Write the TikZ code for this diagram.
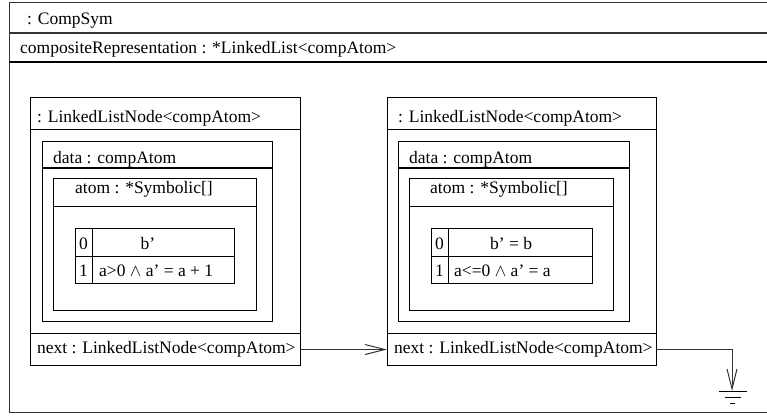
\documentclass[tikz,border=0pt]{standalone}
\usepackage{fontspec}
\setmainfont{Liberation Serif}
\usetikzlibrary{arrows.meta}
\tikzset{
  box/.style={draw=black, line width=1pt, rectangle, inner sep=0pt, anchor=north west},
  lbl/.style={inner sep=0pt, anchor=base west, font=\fontsize{17.5}{20}\selectfont},
  clbl/.style={inner sep=0pt, anchor=base, font=\fontsize{17.5}{20}\selectfont},
  sep/.style={draw=black, line width=1pt},
  conn/.style={draw=black!80, line width=1pt, -{Straight Barb[length=20pt,width=10pt,line width=1pt]}},
}
\begin{document}
\begin{tikzpicture}[x=1pt,y=-1pt]
\useasboundingbox (0,0) rectangle (767,418);
% outer object
\draw[black!80, line width=1pt] (767,2) -- (9,2) -- (9,412) -- (767,412);
\draw[black!80, line width=1.5pt] (9,33) -- (767,33);
\draw[black, line width=2pt] (9,62) -- (767,62);
\node[lbl] (cs) at (27,24) {: CompSym};
\node[lbl] (cr) at (20,53) {compositeRepresentation : *LinkedList<compAtom>};

% left linked list node
\node[box, minimum width=270pt, minimum height=268pt] (lnode) at (30,97) {};
\draw[sep] (30,129) -- (300,129);
\node[lbl] (lt) at (37,122) {: LinkedListNode<compAtom>};
\node[box, minimum width=230pt, minimum height=180pt] (ldata) at (42,141) {};
\draw[sep, line width=1.3pt] (42,168) -- (272,168);
\node[lbl] (ldt) at (53,163) {data : compAtom};
\node[box, minimum width=203pt, minimum height=132pt] (latom) at (53,178) {};
\draw[sep] (53,206) -- (256,206);
\node[lbl] (lat) at (75,193) {atom : *Symbolic[]};
\node[box, minimum width=159pt, minimum height=55pt] (ltab) at (75,228) {};
\draw[sep] (75,256) -- (234,256);
\draw[sep] (92,228) -- (92,283);
\node[clbl] (l0) at (83.5,249) {0};
\node[clbl] (l1) at (83.5,276) {1};
\node[clbl] (lb) at (148,249) {b’};
\node[lbl] (lf) at (99,276) {a>0 $\wedge$ a’ = a + 1};
\node[box, minimum width=270pt, minimum height=32pt] (lnext) at (30,333) {};
\node[lbl] (lnt) at (37,353) {next : LinkedListNode<compAtom>};

% right linked list node
\node[box, minimum width=269pt, minimum height=268pt] (rnode) at (387,97) {};
\draw[sep] (387,129) -- (656,129);
\node[lbl] (rt) at (398,122) {: LinkedListNode<compAtom>};
\node[box, minimum width=231pt, minimum height=180pt] (rdata) at (398,141) {};
\draw[sep, line width=1.3pt] (398,168) -- (629,168);
\node[lbl] (rdt) at (409,163) {data : compAtom};
\node[box, minimum width=204pt, minimum height=132pt] (ratom) at (409,178) {};
\draw[sep] (409,206) -- (613,206);
\node[lbl] (rat) at (430,193) {atom : *Symbolic[]};
\node[box, minimum width=161pt, minimum height=55pt] (rtab) at (431,228) {};
\draw[sep] (431,256) -- (592,256);
\draw[sep] (448,228) -- (448,283);
\node[clbl] (r0) at (439.5,249) {0};
\node[clbl] (r1) at (439.5,276) {1};
\node[lbl] (rb) at (490,249) {b’ = b};
\node[lbl] (rf) at (454,276) {a<=0 $\wedge$\ a’ = a};
\node[box, minimum width=269pt, minimum height=32pt] (rnext) at (387,333) {};
\node[lbl] (rnt) at (394,353) {next : LinkedListNode<compAtom>};

% connectors
\draw[conn] (lnext.east) -- (rnext.west);
\coordinate (gnd) at (732,391);
\draw[conn] (rnext.east) -| (gnd);
\draw[black, line width=1pt] (719,391) -- (747,391);
\draw[black, line width=1pt] (725,397) -- (741,397);
\draw[black, line width=1pt] (730,403) -- (735,403);
\end{tikzpicture}
\end{document}
